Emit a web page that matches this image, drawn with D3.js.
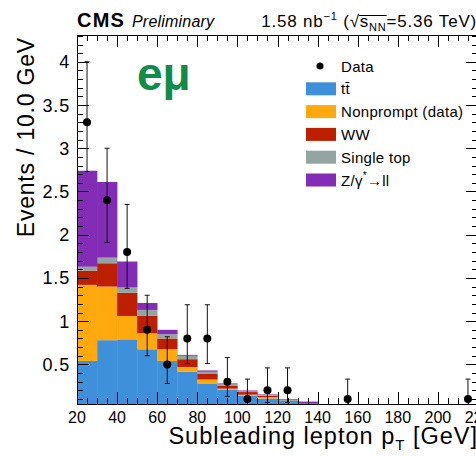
<!DOCTYPE html>
<html><head><meta charset="utf-8">
<script src="https://cdn.jsdelivr.net/npm/d3@7"></script>
<style>body{margin:0;background:#fff;} svg{display:block;}</style>
</head><body>
<svg id="c" width="476" height="457"></svg>
<script>
// ---- data ----
const binLow = [20,30,40,50,60,70,80,90,100,110,120,130];
const binWidth = 10;
const ttbar     = [0.54,0.78,0.79,0.675,0.54,0.415,0.28,0.21,0.14,0.105,0.085,0.03];
const nonprompt = [0.88,0.62,0.27,0.185,0.135,0.055,0.045,0.01,0.01,0.015,0.003,0.005];
const ww        = [0.165,0.27,0.27,0.205,0.125,0.09,0.07,0.03,0.03,0.018,0.008,0.005];
const singletop = [0.045,0.065,0.06,0.065,0.05,0.04,0.02,0.02,0.015,0.012,0.003,0.005];
const dy        = [1.11,0.875,0.30,0.08,0.05,0.01,0.015,0.01,0.005,0.005,0.001,0.025];

const dataX  = [25,35,45,55,65,75,85,95,105,115,125,155,215];
const dataY  = [3.3,2.4,1.8,0.9,0.5,0.8,0.8,0.3,0.1,0.2,0.2,0.1,0.1];
const dataLo = [0.57,0.49,0.42,0.30,0.22,0.29,0.29,0.17,0.1,0.14,0.14,0.1,0.1];
const dataHi = [0.70,0.60,0.55,0.40,0.32,0.39,0.39,0.28,0.23,0.26,0.26,0.23,0.23];

const xTickValues = [20,40,60,80,100,120,140,160,180,200,220];
const xTickLabels = ["20","40","60","80","100","120","140","160","180","200","220"];
const yTickValues = [0.5,1,1.5,2,2.5,3,3.5,4];
const yTickLabels = ["0.5","1","1.5","2","2.5","3","3.5","4"];

const seriesKeys   = ["ttbar","nonprompt","ww","singletop","dy"];
const seriesColors = ["#3f90da","#ffa90e","#bd1f01","#94a4a2","#832db6"];

// ---- layout ----
const svg = d3.select("#c");
const FONT = "'Liberation Sans', Arial, Helvetica, sans-serif";
const L = 77, R = 478, T = 35, B = 404;
const x = d3.scaleLinear().domain([20,220]).range([L,R]);
const y = d3.scaleLinear().domain([0.042,4.31]).range([B,T]);

svg.append("defs").append("clipPath").attr("id","pc")
  .append("rect").attr("x",L).attr("y",T).attr("width",R-L).attr("height",B-T);

// stacked histogram
const table = binLow.map((b,i)=>({b, ttbar:ttbar[i], nonprompt:nonprompt[i], ww:ww[i], singletop:singletop[i], dy:dy[i]}));
const stack = d3.stack().keys(seriesKeys)(table);
const gBars = svg.append("g").attr("clip-path","url(#pc)");
stack.forEach((layer,k)=>{
  gBars.selectAll(null).data(layer).enter().append("rect")
    .attr("x", d=>x(d.data.b))
    .attr("width", d=>x(d.data.b+binWidth)-x(d.data.b)+0.3)
    .attr("y", d=>y(d[1]))
    .attr("height", d=>Math.max(0, y(Math.max(d[0],0.042)) - y(d[1])))
    .attr("fill", seriesColors[k]);
});

// data points
const gData = svg.append("g").attr("clip-path","url(#pc)");
dataX.forEach((dx,i)=>{
  const cx = x(dx), lo = y(dataY[i]-dataLo[i]), hi = y(dataY[i]+dataHi[i]);
  gData.append("line").attr("x1",cx).attr("x2",cx).attr("y1",lo).attr("y2",hi).attr("stroke","#111").attr("stroke-width",1);
  gData.append("line").attr("x1",cx-2.5).attr("x2",cx+2.5).attr("y1",hi).attr("y2",hi).attr("stroke","#111").attr("stroke-width",1);
  gData.append("line").attr("x1",cx-2.5).attr("x2",cx+2.5).attr("y1",lo).attr("y2",lo).attr("stroke","#111").attr("stroke-width",1);
  gData.append("circle").attr("cx",cx).attr("cy",y(dataY[i])).attr("r",4).attr("fill","#000");
});

// frame + ticks
const gAx = svg.append("g").attr("stroke","#000").attr("stroke-width",1).attr("fill","none");
gAx.append("rect").attr("x",L+0.5).attr("y",T+0.5).attr("width",R-L-1).attr("height",B-T);
const xMinor = x.ticks(40);
xMinor.forEach(v=>{
  const major = xTickValues.includes(v);
  const len = major ? 12 : 6;
  const px = Math.round(x(v))+0.5;
  gAx.append("line").attr("x1",px).attr("x2",px).attr("y1",B).attr("y2",B-len);
  gAx.append("line").attr("x1",px).attr("x2",px).attr("y1",T).attr("y2",T+len);
});
const yMinor = d3.range(1,44).map(k=>k/10);
yMinor.forEach(v=>{
  const major = yTickValues.some(t=>Math.abs(t-v)<1e-6);
  const len = major ? 12 : 6;
  const py = Math.round(y(v))+0.5;
  gAx.append("line").attr("x1",L).attr("x2",L+len).attr("y1",py).attr("y2",py);
  gAx.append("line").attr("x1",R).attr("x2",R-len).attr("y1",py).attr("y2",py);
});

// tick labels
svg.append("g").selectAll("text").data(xTickValues).enter().append("text")
  .attr("x",d=>x(d)).attr("y",423).attr("text-anchor","middle")
  .attr("font-family",FONT).attr("font-size",16)
  .text((d,i)=>xTickLabels[i]);
svg.append("g").selectAll("text").data(yTickValues).enter().append("text")
  .attr("x",70).attr("y",d=>y(d)+6.5).attr("text-anchor","end")
  .attr("font-family",FONT).attr("font-size",18).attr("letter-spacing",0.8)
  .text((d,i)=>yTickLabels[i]);

// axis titles
const xt = svg.append("text").attr("x",478).attr("y",444).attr("text-anchor","end")
  .attr("font-family",FONT).attr("font-size",23.5).attr("letter-spacing",1);
xt.append("tspan").text("Subleading lepton p");
xt.append("tspan").attr("font-size",15).attr("dy",6).text("T");
xt.append("tspan").attr("dy",-6).text(" [GeV]");

svg.append("text").attr("transform","translate(34,37) rotate(-90)").attr("text-anchor","end")
  .attr("font-family",FONT).attr("font-size",23).attr("letter-spacing",0.8)
  .text("Events / 10.0 GeV");

// CMS labels
svg.append("text").attr("x",77).attr("y",27).attr("font-family",FONT).attr("font-weight","bold")
  .attr("font-size",20).attr("letter-spacing",1.2).text("CMS");
svg.append("text").attr("x",132).attr("y",27).attr("font-family",FONT).attr("font-style","italic")
  .attr("font-size",16).attr("letter-spacing",0.2).text("Preliminary");

const lumi = svg.append("text").attr("x",477).attr("y",27).attr("text-anchor","end")
  .attr("font-family",FONT).attr("font-size",17).attr("letter-spacing",0.8);
lumi.append("tspan").text("1.58 nb");
lumi.append("tspan").attr("font-size",11).attr("dy",-7).text("\u22121");
lumi.append("tspan").attr("dy",7).text(" (\u221A");
lumi.append("tspan").text("s");
lumi.append("tspan").attr("font-size",11).attr("dy",4).text("NN");
lumi.append("tspan").attr("dy",-4).text("=5.36 TeV)");
try {
  const node = lumi.node();
  const e1 = node.getExtentOfChar(11), e2 = node.getExtentOfChar(14);
  svg.append("line").attr("x1",e1.x+e1.width-1).attr("x2",e2.x+e2.width).attr("y1",15.5).attr("y2",15.5)
    .attr("stroke","#000").attr("stroke-width",1);
} catch(e) {}

// channel label
svg.append("text").attr("x",137).attr("y",90).attr("font-family",FONT).attr("font-weight","bold")
  .attr("font-size",46).attr("fill","#0e8c48").text("e\u03BC");

// legend
const legY0 = 66, legStep = 22.8;
const lg = svg.append("g").attr("font-family",FONT).attr("font-size",15).attr("letter-spacing",0.3);
lg.append("circle").attr("cx",320).attr("cy",legY0).attr("r",3.5).attr("fill","#000");
lg.append("text").attr("x",341).attr("y",legY0+5.5).text("Data");
const legLabels = ["t\u0074\u0304","Nonprompt (data)","WW","Single top",null];
seriesKeys.forEach((k,i)=>{
  const cy = legY0 + legStep*(i+1);
  lg.append("rect").attr("x",306).attr("y",cy-6.5).attr("width",30).attr("height",13).attr("fill",seriesColors[i]);
  if (legLabels[i]) {
    lg.append("text").attr("x",341).attr("y",cy+5.5).text(legLabels[i]);
  } else {
    const t = lg.append("text").attr("x",341).attr("y",cy+5.5);
    t.append("tspan").text("Z/\u03B3");
    t.append("tspan").attr("font-size",10).attr("dy",-7).text("*");
    t.append("tspan").attr("dy",7).text("\u2192ll");
  }
});
</script>
</body></html>
